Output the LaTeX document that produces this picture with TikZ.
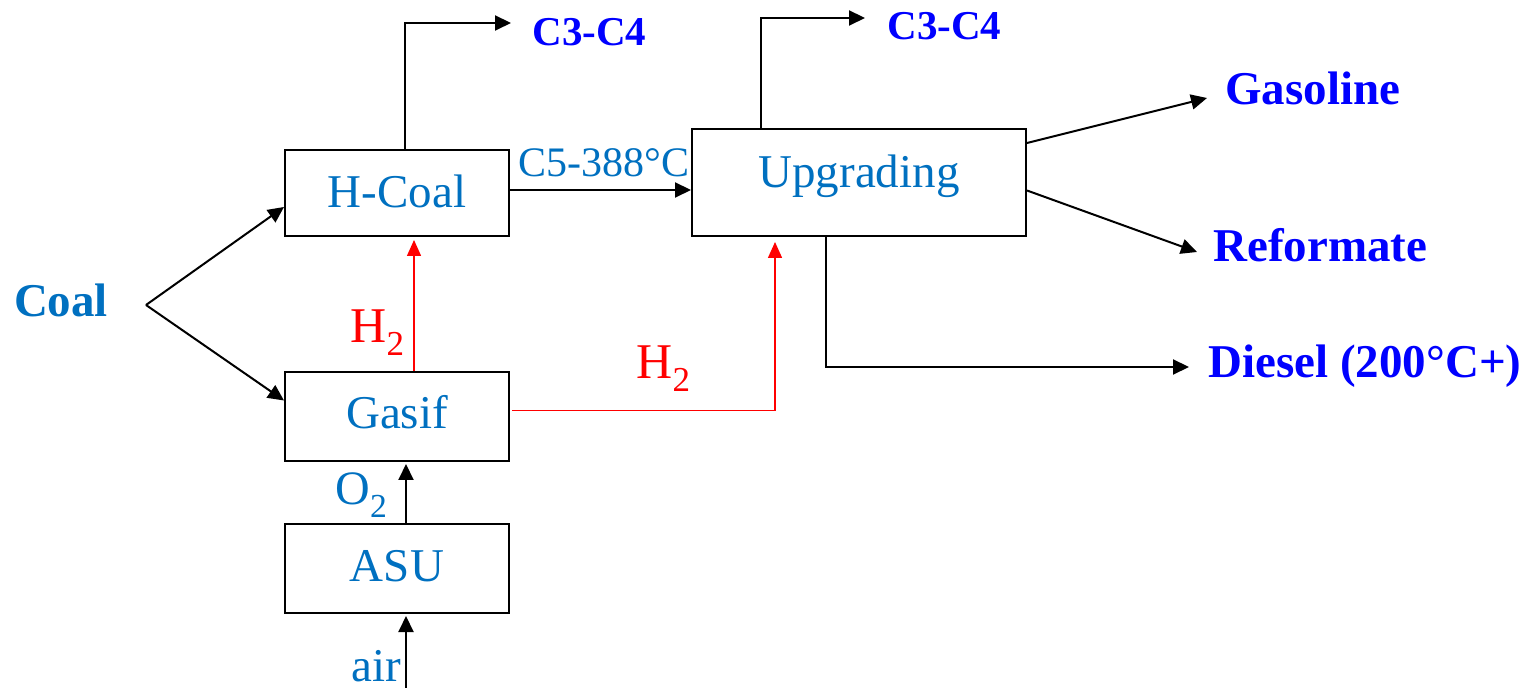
\documentclass[tikz,border=0pt]{standalone}
\usepackage{fontspec}
\usepackage{graphicx}
\setmainfont{Liberation Serif}
\usetikzlibrary{arrows.meta,calc}
\definecolor{lblue}{RGB}{0,112,192}
\definecolor{pblue}{RGB}{0,0,255}
\definecolor{hred}{RGB}{255,0,0}
\newcommand{\subnum}[1]{\raisebox{-0.26em}{\scalebox{0.7}{#1}}}
\begin{document}
\begin{tikzpicture}[x=0.5pt,y=-0.5pt,
  box/.style={draw=black, line width=1pt, inner sep=0pt, text=lblue,
    font=\fontsize{23.5pt}{28pt}\selectfont, text height=16pt, text depth=1pt},
  arr/.style={draw=black, line width=1pt, -{Triangle[length=8pt,width=7.5pt]}},
  redarr/.style={draw=hred, line width=0.75pt, -{Triangle[length=8pt,width=7pt]}},
  lbl/.style={inner sep=0pt, text=lblue, font=\fontsize{23.5pt}{28pt}\selectfont},
  prod/.style={inner sep=0pt, anchor=base west, text=pblue, font=\bfseries\fontsize{23.5pt}{28pt}\selectfont},
  hlbl/.style={inner sep=0pt, anchor=base west, text=hred, font=\fontsize{25pt}{30pt}\selectfont}]
\useasboundingbox (0,0) rectangle (1534,688);

% boxes
\node[box, minimum width=112pt, minimum height=43pt] (hcoal) at (397,193) {H-Coal};
\node[box, minimum width=112pt, minimum height=44.5pt, text depth=3.5pt] (gasif) at (397,416.5) {Gasif};
\node[box, minimum width=112pt, minimum height=44.5pt, text depth=2.6pt] (asu) at (397,568.5) {ASU};
\node[box, minimum width=167pt, minimum height=53.5pt, text depth=10.5pt] (upg) at (859,182.5) {Upgrading};

% labels
\node[lbl, anchor=base, font=\bfseries\fontsize{23.5pt}{28pt}\selectfont] (coal) at (61,317) {Coal};
\node[lbl, anchor=base, font=\fontsize{21pt}{25pt}\selectfont] (c5) at (604,177) {C5-388°C};
\node[lbl, anchor=base west, font=\fontsize{24pt}{28pt}\selectfont] (o2) at (335,505) {O\subnum{2}};
\node[lbl, anchor=base west] (air) at (351,681) {air};
\node[hlbl] (h2a) at (350,343) {H\subnum{2}};
\node[hlbl] (h2b) at (636,379) {H\subnum{2}};
\node[prod, font=\bfseries\fontsize{20.5pt}{25pt}\selectfont] (c3a) at (532,46) {C3-C4};
\node[prod, font=\bfseries\fontsize{20.5pt}{25pt}\selectfont] (c3b) at (887,40) {C3-C4};
\node[prod] (gas) at (1225,105) {Gasoline};
\node[prod] (ref) at (1213,262) {Reformate};
\node[prod] (dies) at (1208,378) {Diesel (200°C+)};

% coordinates for free ends
\coordinate (cb) at (146,305);
\coordinate (airin) at (406,690);

% black connectors
\draw[arr] (cb) -- ($(hcoal.west)+(0,14)$);
\draw[arr] (cb) -- ($(gasif.west)+(0,-16)$);
\draw[arr] ($(hcoal.north)+(8,0)$) |- ($(c3a.base west)+(-21,-23)$);
\draw[arr] ($(hcoal.east)+(0,-3)$) -- ($(upg.west)+(0,7.5)$);
\draw[arr] ($(upg.north)+(-98,0)$) |- ($(c3b.base west)+(-22,-22)$);
\draw[arr] ($(upg.north east)+(0,15)$) -- ($(gas.base west)+(-18,-7)$);
\draw[arr] ($(upg.east)+(0,8)$) -- ($(ref.base west)+(-16,-10)$);
\draw[arr] ($(upg.south)+(-33,0)$) |- ($(dies.base west)+(-19,-11)$);
\draw[arr] ($(asu.north)+(9,0)$) -- ($(gasif.south)+(9,2)$);
\draw[arr] (airin) -- ($(asu.south)+(9,2)$);

% red connectors
\draw[redarr] ($(gasif.north)+(17,0)$) -- ($(hcoal.south)+(17,3)$);
\draw[redarr] ($(gasif.east)+(2,-6)$) -| ($(upg.south)+(-84,5)$);
\end{tikzpicture}
\end{document}
